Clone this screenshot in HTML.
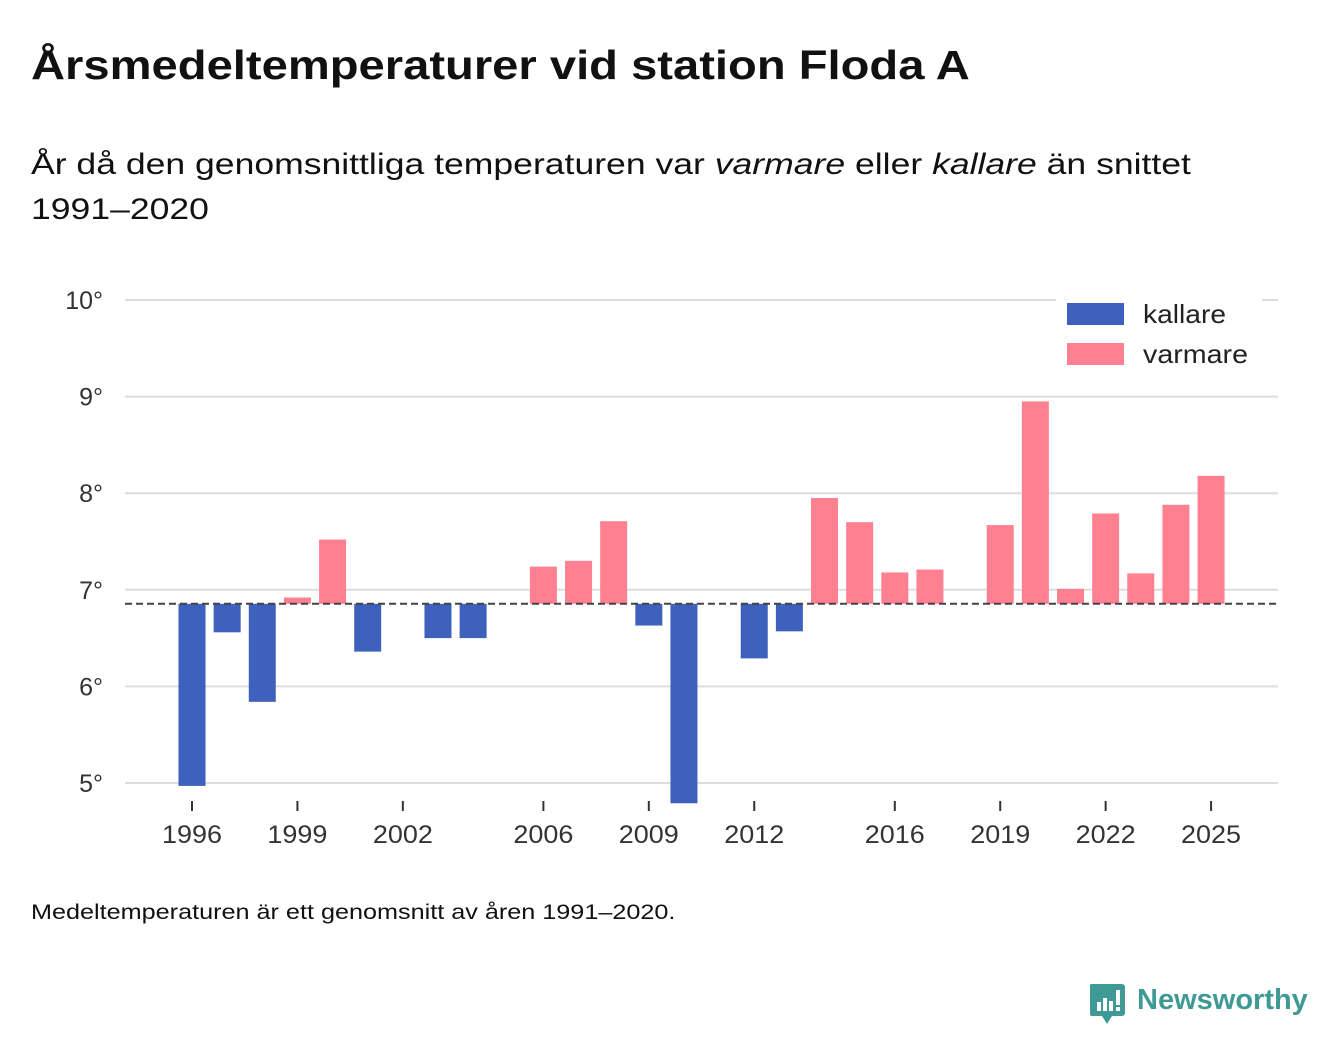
<!DOCTYPE html>
<html><head><meta charset="utf-8"><style>
body{margin:0;background:#fff;width:1340px;height:1056px;overflow:hidden;font-family:"Liberation Sans",sans-serif;color:#111;position:relative}
.t{position:absolute;left:31px;white-space:nowrap;transform-origin:0 0}
</style></head><body>
<div class="t" style="top:42px;font-size:41px;font-weight:bold;transform:scaleX(1.15)">Årsmedeltemperaturer vid station Floda A</div>
<div class="t" style="top:142px;font-size:30px;line-height:45px;transform:scaleX(1.185)">År då den genomsnittliga temperaturen var <i>varmare</i> eller <i>kallare</i> än snittet<br>1991–2020</div>
<svg id="c" width="1340" height="880" style="position:absolute;left:0;top:0"></svg>
<div class="t" style="top:901px;font-size:21px;transform:scaleX(1.2)">Medeltemperaturen är ett genomsnitt av åren 1991–2020.</div>
<div style="position:absolute;left:1090px;top:984px;height:40px">
<svg width="36" height="42" style="position:absolute;left:0;top:0"><path d="M2 0h30a3 3 0 0 1 3 3v26a3 3 0 0 1-3 3H22l-5 8-5-8H2a2 2 0 0 1-2-2V3a2 2 0 0 1 2-3z" fill="#3f9a95"/><rect x="7" y="18" width="4" height="9" fill="#fff"/><rect x="13" y="14" width="4" height="13" fill="#fff"/><rect x="19" y="17" width="4" height="10" fill="#fff"/><rect x="26" y="6" width="4" height="15" fill="#fff"/><rect x="26" y="23" width="4" height="4" fill="#fff"/></svg>
<span style="position:absolute;left:47px;top:0px;font-size:29px;font-weight:bold;color:#3f9a95;white-space:nowrap">Newsworthy</span></div>
<script>
const years=[1996,1997,1998,1999,2000,2001,2002,2003,2004,2005,2006,2007,2008,2009,2010,2011,2012,2013,2014,2015,2016,2017,2018,2019,2020,2021,2022,2023,2024,2025];
const temps=[4.97,6.56,5.84,6.92,7.52,6.36,null,6.50,6.50,null,7.24,7.30,7.71,6.63,4.79,null,6.29,6.57,7.95,7.70,7.18,7.21,null,7.67,8.95,7.01,7.79,7.17,7.88,8.18];
const mean=6.855;
const yTicks=[5,6,7,8,9,10];
const xTicks=[1996,1999,2002,2006,2009,2012,2016,2019,2022,2025];
const y=v=>783-(v-5)*96.6;
const x=yr=>192+(yr-1996)*35.14;
const s=document.getElementById('c'),NS='http://www.w3.org/2000/svg';
function mk(t,a,txt){const e=document.createElementNS(NS,t);for(const k in a)e.setAttribute(k,a[k]);if(txt!=null)e.textContent=txt;s.appendChild(e);return e;}
yTicks.forEach(v=>{
 let l=mk('line',{x1:125,x2:1278,y1:y(v),y2:y(v),stroke:'#ddd','stroke-width':2});
 
 
 let t=mk('text',{x:103,y:y(v)+9,'text-anchor':'end','font-size':25,fill:'#333'},v+'°');
 
 
});
xTicks.forEach(yr=>{
 let l=mk('line',{x1:x(yr),x2:x(yr),y1:801,y2:811,stroke:'#333','stroke-width':2});
 
 
 let t=mk('text',{x:x(yr),y:843,'text-anchor':'middle','font-size':25,fill:'#333',textLength:60,lengthAdjust:'spacingAndGlyphs'},yr);
 
 
});
years.forEach((yr,i)=>{
 const v=temps[i];if(v==null)return;
 const top=Math.min(y(v),y(mean)),h=Math.abs(y(v)-y(mean));
 let r=mk('rect',{x:x(yr)-13.5,y:top,width:27,height:h,fill:v<mean?'#3e61bd':'#ff8090'});
 
 
});
let d=mk('line',{x1:125,x2:1278,y1:y(mean),y2:y(mean),stroke:'#444','stroke-width':2,'stroke-dasharray':'7,4'});


let bg=mk('rect',{x:1056,y:292,width:206,height:88,fill:'#fff'});


[['kallare','#3e61bd',303,83],['varmare','#ff8090',343,105]].forEach(([n,c,yy,w])=>{
 let r=mk('rect',{x:1067,y:yy,width:57,height:22,fill:c});
 
 
 let t=mk('text',{x:1143,y:yy+20,'font-size':26,fill:'#222',textLength:w,lengthAdjust:'spacingAndGlyphs'},n);
 
 
});
</script>
</body></html>
